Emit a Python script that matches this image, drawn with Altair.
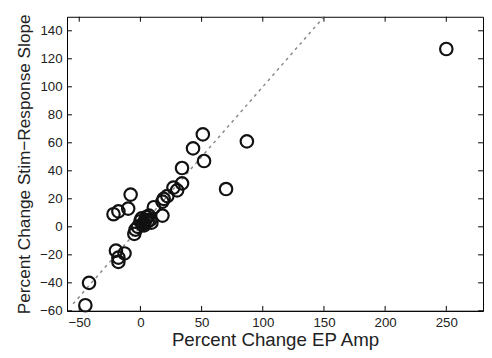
import altair as alt
import pandas as pd

# Data
ep_amp = [250, 51, 87, 52, 70, 43, 34, 34, 27, 30, 22, 19, 18, 11, 18, -8, -10, -18, -22,
          8, 4, 3, 0, -2, -4, -5, 7, 5, 2, 6, 9, 1, 3, -20, -13, -18, -18, -42, -45]
sr_slope = [127, 66, 61, 47, 27, 56, 42, 31, 28, 26, 22, 20, 18, 14, 8, 23, 13, 11, 9,
            5, 5, 3, 4, 0, -2, -5, 8, 7, 2, 4, 3, 6, 1, -17, -19, -22, -25, -40, -56]
unity_x = [-55, 160]
unity_y = [-55, 160]
x_ticks = [-50, 0, 50, 100, 150, 200, 250]
y_ticks = [-60, -40, -20, 0, 20, 40, 60, 80, 100, 120, 140]

W, H = 423, 299
TICK = 5
FONT = "Liberation Sans"

pts = pd.DataFrame({"x": ep_amp, "y": sr_slope})
line_df = pd.DataFrame({"x": unity_x, "y": unity_y})
xt = pd.DataFrame({"v": x_ticks})
yt = pd.DataFrame({"v": y_ticks})

xscale = alt.Scale(domain=[-60, 280], nice=False, zero=False)
yscale = alt.Scale(domain=[-60, 150], nice=False, zero=False)

xaxis = alt.Axis(values=x_ticks, ticks=False, grid=False, domainColor="black",
                 labelFont=FONT, labelFontSize=13.5, labelColor="#222", labelPadding=5,
                 labelOverlap=False, labelFlush=False,
                 title="Percent Change EP Amp", titleFont=FONT, titleFontSize=19,
                 titleFontWeight="normal", titleColor="#222", titlePadding=2)
yaxis = alt.Axis(values=y_ticks, ticks=False, grid=False, domainColor="black",
                 labelFont=FONT, labelFontSize=13.5, labelColor="#222", labelPadding=5,
                 labelOverlap=False, labelFlush=False,
                 title="Percent Change Stim\u2212Response Slope", titleFont=FONT,
                 titleFontSize=17.5, titleFontWeight="normal", titleColor="#222",
                 titlePadding=6)

diag = alt.Chart(line_df).mark_line(
    color="#888888", strokeDash=[3, 4], strokeWidth=1.5, clip=True
).encode(
    x=alt.X("x:Q", scale=xscale, axis=xaxis),
    y=alt.Y("y:Q", scale=yscale, axis=yaxis),
)

points = alt.Chart(pts).mark_point(
    shape="circle", size=160, filled=False, color="#111111", strokeWidth=2.2, opacity=1
).encode(
    x=alt.X("x:Q", scale=xscale, axis=xaxis),
    y=alt.Y("y:Q", scale=yscale, axis=yaxis),
)

tick_style = dict(color="black", strokeWidth=1)
bottom_ticks = alt.Chart(xt).mark_rule(**tick_style).encode(
    x=alt.X("v:Q", scale=xscale, axis=xaxis), y=alt.value(H), y2=alt.value(H - TICK))
top_ticks = alt.Chart(xt).mark_rule(**tick_style).encode(
    x=alt.X("v:Q", scale=xscale, axis=xaxis), y=alt.value(0), y2=alt.value(TICK))
left_ticks = alt.Chart(yt).mark_rule(**tick_style).encode(
    y=alt.Y("v:Q", scale=yscale, axis=yaxis), x=alt.value(0), x2=alt.value(TICK))
right_ticks = alt.Chart(yt).mark_rule(**tick_style).encode(
    y=alt.Y("v:Q", scale=yscale, axis=yaxis), x=alt.value(W), x2=alt.value(W - TICK))

chart = alt.layer(diag, bottom_ticks, top_ticks, left_ticks, right_ticks, points).properties(
    width=W, height=H,
    autosize=alt.AutoSizeParams(type="none"),
    padding={"left": 60, "top": 6, "right": 1, "bottom": 44},
    background="white",
).configure_view(stroke="black", strokeWidth=1).configure_axis(
    labelOverlap=False, labelFlush=False
)

chart.save("out.html", embed_options={"renderer": "svg", "actions": False})
